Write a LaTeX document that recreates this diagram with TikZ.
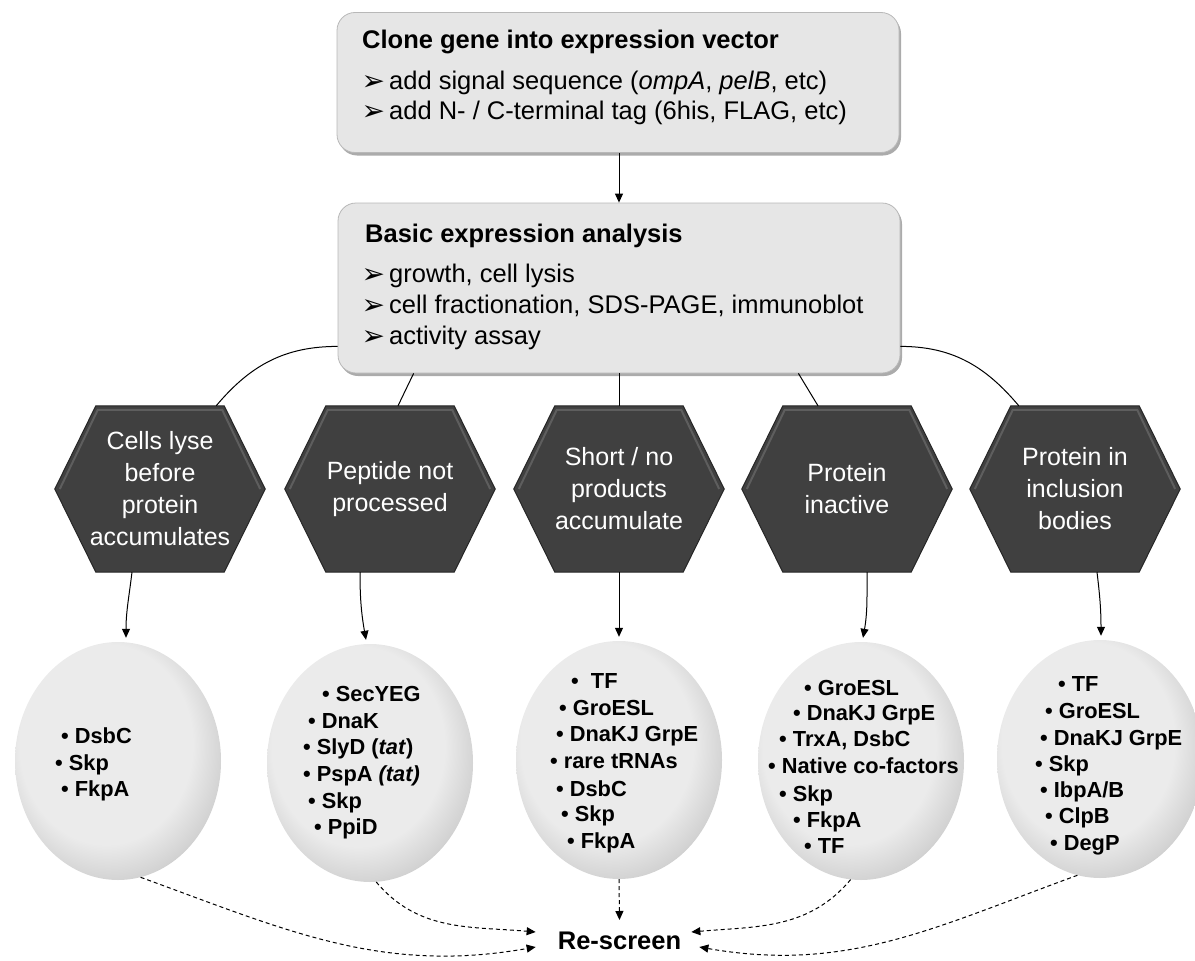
\documentclass[tikz,border=0pt]{standalone}
\usepackage{fontspec}
\setmainfont{Liberation Sans}
\newfontfamily\dejavu{DejaVu Sans}
\usetikzlibrary{arrows.meta,shadows,backgrounds,shapes.geometric}
\definecolor{boxfill}{HTML}{E6E6E6}
\definecolor{boxline}{HTML}{B8B8B8}
\definecolor{hexfill}{HTML}{404040}
\definecolor{hexline}{HTML}{262626}
\definecolor{hexhi}{HTML}{5E5E5E}
\definecolor{ellA}{HTML}{EBEBEB}
\definecolor{ellB}{HTML}{D2D2D2}
\definecolor{ellC}{HTML}{959595}
\pgfdeclareradialshading{ellshade}{\pgfpoint{-5bp}{6bp}}{color(0bp)=(ellA); color(21bp)=(ellA); color(28bp)=(ellB); color(32bp)=(ellC); color(50bp)=(ellC)}
\newcommand\ab{\llap{\raisebox{-1pt}{\dejavu\fontsize{28pt}{28pt}\selectfont ➢}\hspace{4pt}}}
\newcommand\drawhex[1]{%
  \fill[hexfill, draw=hexline, line width=1pt] (#1.west) -- ([xshift=41pt]#1.north west) -- ([xshift=-41pt]#1.north east) -- (#1.east) -- ([xshift=-41pt]#1.south east) -- ([xshift=41pt]#1.south west) -- cycle;
  \draw[hexhi, line width=2pt, line join=round] ([xshift=5pt]#1.west) -- ([xshift=43pt,yshift=-4pt]#1.north west) -- ([xshift=-43pt,yshift=-4pt]#1.north east) -- ([xshift=-5pt]#1.east);}
\begin{document}
\begin{tikzpicture}[x=1pt,y=1pt,
  boxnode/.style={rectangle, rounded corners=18pt, fill=boxfill, draw=boxline, line width=0.8pt, inner sep=0pt,
    drop shadow={shadow xshift=2pt, shadow yshift=-3pt, fill=black!55, opacity=0.6}},
  titletext/.style={font=\bfseries\fontsize{25.5pt}{30pt}\selectfont, inner sep=0pt, anchor=base west},
  bodytext/.style={font=\fontsize{25.5pt}{30pt}\selectfont, inner sep=0pt, anchor=base west},
  hexnode/.style={rectangle, minimum width=210pt, minimum height=166pt, inner sep=0pt, text=white, align=center,
    font=\fontsize{25pt}{32pt}\selectfont},
  ellnode/.style={ellipse, minimum width=206pt, minimum height=238pt, inner sep=0pt, shade, shading=ellshade},
  elltext/.style={font=\bfseries\fontsize{21.8pt}{26pt}\selectfont, inner sep=0pt, anchor=base west},
  link/.style={line width=1pt, black},
  conn/.style={line width=1pt, black, -{Triangle[length=9pt,width=8pt]}},
  dconn/.style={line width=1pt, black, dash pattern=on 4pt off 3pt, -{Triangle[length=9pt,width=8pt]}}]
\useasboundingbox (0,0) rectangle (1195,-961);

% boxes
\node[boxnode, minimum width=562pt, minimum height=140pt] (b1) at (618,-82.5) {};
\node[titletext] (b1t) at (362,-48) {Clone gene into expression vector};
\node[bodytext] (b1a) at (389,-89) {\ab add signal sequence (\textit{ompA}, \textit{pelB}, etc)};
\node[bodytext] (b1b) at (389,-119) {\ab add N- / C-terminal tag (6his, FLAG, etc)};

\node[boxnode, minimum width=562pt, minimum height=170pt] (b2) at (619,-288) {};
\node[titletext] (b2t) at (365,-242) {Basic expression analysis};
\node[bodytext] (b2a) at (389,-282) {\ab growth, cell lysis};
\node[bodytext] (b2b) at (389,-313) {\ab cell fractionation, SDS-PAGE, immunoblot};
\node[bodytext] (b2c) at (389,-344) {\ab activity assay};

% hexagons
\node[hexnode] (h1) at (160,-489) {Cells lyse\\before\\protein\\accumulates};
\node[hexnode] (h2) at (390,-489) {Peptide not\\processed};
\node[hexnode] (h3) at (619,-489) {Short / no\\products\\accumulate};
\node[hexnode] (h4) at (847,-489) {Protein\\inactive};
\node[hexnode] (h5) at (1075,-489) {Protein in\\inclusion\\bodies};
\begin{scope}[on background layer]
\drawhex{h1}\drawhex{h2}\drawhex{h3}\drawhex{h4}\drawhex{h5}
\end{scope}

% ellipses
\node[ellnode] (e1) at (118,-761) {};
\node[ellnode] (e2) at (370,-763) {};
\node[ellnode] (e3) at (619,-760) {};
\node[ellnode] (e4) at (861,-761) {};
\node[ellnode] (e5) at (1100,-759) {};

\foreach \t/\x/\y [count=\i] in {DsbC/61/743, Skp/55/770, FkpA/61/796}
  \node[elltext] (e1l\i) at (\x,-\y) {•~\t};
\foreach \t/\x/\y [count=\i] in {SecYEG/322/701, DnaK/308/728, {SlyD (\textit{tat})}/303/754, {PspA \textit{(tat)}}/303/781, Skp/308/808, PpiD/314/834}
  \node[elltext] (e2l\i) at (\x,-\y) {•~\t};
\foreach \t/\x/\y [count=\i] in {{\ TF}/571/688, GroESL/559/715, DnaKJ GrpE/556/741, rare tRNAs/550/768, DsbC/556/796, Skp/561/821, FkpA/567/848}
  \node[elltext] (e3l\i) at (\x,-\y) {•~\t};
\foreach \t/\x/\y [count=\i] in {GroESL/804/695, DnaKJ GrpE/793/720, {TrxA, DsbC}/779/746, Native co-factors/768/773, Skp/779/801, FkpA/793/827, TF/804/853}
  \node[elltext] (e4l\i) at (\x,-\y) {•~\t};
\foreach \t/\x/\y [count=\i] in {TF/1058/691, GroESL/1045/718, DnaKJ GrpE/1040/745, Skp/1035/771, {IbpA/B}/1040/797, ClpB/1045/823, DegP/1050/850}
  \node[elltext] (e5l\i) at (\x,-\y) {•~\t};

% re-screen
\node[font=\bfseries\fontsize{25.5pt}{30pt}\selectfont, inner sep=0pt, anchor=base] (rs) at (619.5,-949) {Re-screen};

% connectors
\draw[conn] (b1.south -| b2.north) -- (b2.north);
\draw[link] ([yshift=27pt]b2.south west) to[out=180,in=50] ([xshift=-49pt]h1.north east);
\draw[link] ([xshift=76pt]b2.south west) -- ([xshift=8pt]h2.north);
\draw[link] (b2.south) -- (h3.north);
\draw[link] ([xshift=-102pt]b2.south east) -- ([xshift=-29pt]h4.north);
\draw[link] ([yshift=27pt]b2.south east) to[out=0,in=130] ([xshift=49pt]h5.north west);

\draw[conn] ([xshift=-28pt]h1.south) to[out=-97,in=90] ([xshift=8pt,yshift=4pt]e1.north);
\draw[conn] ([xshift=-30pt]h2.south) to[out=-90,in=100] ([xshift=-4pt,yshift=4pt]e2.north);
\draw[conn] (h3.south) -- ([yshift=4pt]e3.north);
\draw[conn] ([xshift=20pt]h4.south) to[out=-90,in=80] ([xshift=2pt,yshift=4pt]e4.north);
\draw[conn] ([xshift=22pt]h5.south) to[out=-83,in=90] ([xshift=1pt,yshift=4pt]e5.north);

\draw[dconn] (e1.-79) to[out=-20,in=190] ([xshift=-22pt,yshift=2pt]rs.base west);
\draw[dconn] (e2.-87) to[out=-50,in=175] ([xshift=-22pt,yshift=17pt]rs.base west);
\draw[dconn] (e3.south) -- ([yshift=29pt]rs.base);
\draw[dconn] (e4.-95) to[out=-130,in=5] ([xshift=10pt,yshift=17pt]rs.base east);
\draw[dconn] (e5.-101) to[out=-160,in=-10] ([xshift=18pt,yshift=2pt]rs.base east);
\end{tikzpicture}
\end{document}
